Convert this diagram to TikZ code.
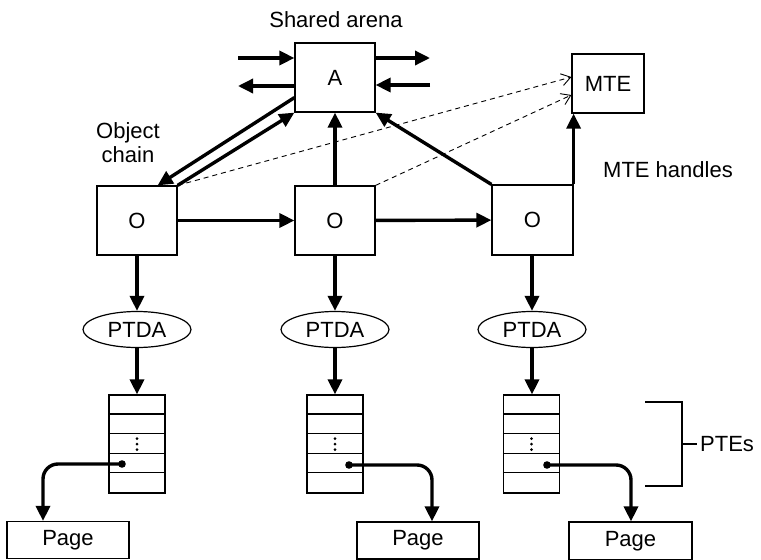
\documentclass[tikz,border=0pt]{standalone}
\usepackage{fontspec}
\setmainfont{Liberation Sans}
\usetikzlibrary{arrows.meta,shapes.geometric,calc}
\begin{document}
\begin{tikzpicture}[x=1pt,y=-1pt,
  every node/.style={font=\fontsize{22}{24}\selectfont, inner sep=0pt},
  box/.style={draw, line width=1.2pt, rectangle},
  obox/.style={box, minimum width=80pt, minimum height=69pt},
  oval/.style={draw, line width=1.2pt, ellipse, minimum width=108pt, minimum height=36pt},
  tbl/.style={box, minimum width=56pt, minimum height=98pt},
  pagebox/.style={box, minimum width=122pt, minimum height=37pt},
  arr/.style={line width=3.4pt, -{Triangle[length=15pt,width=14pt]}},
  dashlink/.style={line width=0.9pt, dashed, dash pattern=on 5pt off 4pt, -{Straight Barb[length=9pt,width=12pt,line width=0.9pt]}},
  rowline/.style={line width=1.2pt}
]
\useasboundingbox (0,0) rectangle (761,560);

% Shared arena
\node (sa) at (336,20) {Shared arena};
\node[obox] (A) at (335,77.5) {A};
\node[box, minimum width=72pt, minimum height=59pt] (MTE) at (608,83.5) {MTE};

\node[align=center] (oc) at (128,143) {Object\\chain};
\node (mh) at (668,170) {MTE handles};

% Object boxes
\node[obox] (O1) at (137,220.5) {O};
\node[obox] (O2) at (335,220.5) {O};
\node[obox, minimum width=81pt, minimum height=70pt] (O3) at (532.5,220) {O};

% PTDA
\node[oval] (E1) at (137,329.5) {PTDA};
\node[oval] (E2) at (335,329.5) {PTDA};
\node[oval] (E3) at (532,329.5) {PTDA};

% Tables
\node[tbl] (T1) at (137,444) {};
\node[tbl] (T2) at (335,444) {};
\node[tbl] (T3) at (531.5,444) {};
\foreach \t in {T1,T2,T3}{
  \foreach \k in {1,2,3,4}
    \draw[rowline] ($(\t.north west)+(0,19.6*\k)$) -- ($(\t.north east)+(0,19.6*\k)$);
  \foreach \v in {-5.5,0,5.5}
    \fill ($(\t.center)+(0,\v)$) circle (1.5pt);
}

% Pages
\node[pagebox] (P1) at (68,540) {Page};
\node[pagebox] (P2) at (418,540.5) {Page};
\node[pagebox, minimum width=123pt, minimum height=38pt] (P3) at (630.5,541) {Page};

% dots and pointers
\coordinate (d1) at ($(T1.center)+(-15,20)$);
\coordinate (d2) at ($(T2.center)+(14,21)$);
\coordinate (d3) at ($(T3.center)+(15.5,21)$);
\fill (d1) circle (3.8pt);
\fill (d2) circle (3.8pt);
\fill (d3) circle (3.8pt);
\draw[arr, rounded corners=15pt] (d1) -| ($(P1.north)+(-25,0)$);
\draw[arr, rounded corners=15pt] (d2) -| ($(P2.north)+(14,0)$);
\draw[arr, rounded corners=15pt] (d3) -| ($(P3.north)+(0.5,0)$);

% PTEs bracket
\node[anchor=west] (ptes) at (700,444) {PTEs};
\coordinate (b1) at (645,402);
\coordinate (b2) at (645,486);
\coordinate (bm) at (682,444);
\draw[line width=1.2pt] (b1) -| (bm |- b2) -- (b2);
\draw[line width=1.2pt] (bm) -- ($(ptes.west)+(-3,0)$);

% Arrows around A
\coordinate (la1) at (238,58);
\coordinate (la2) at (238,86);
\coordinate (ra1) at (430,58);
\coordinate (ra2) at (430,85);
\draw[arr] (la1) -- (la1 -| A.west);
\draw[arr] (la2 -| A.west) -- (la2);
\draw[arr] (ra1 -| A.east) -- (ra1);
\draw[arr] (ra2) -- (ra2 -| A.east);

% object chain
\draw[arr] ($(A.south west)+(0,-15)$) -- ($(O1.north east)+(-20,0)$);
\draw[arr] (O1.north east) -- (A.south west);
\draw[arr] (O1) -- (O2);
\draw[arr] (O2) -- (O3);
\draw[arr] (O2.north) -- (A.south);
\draw[arr] (O3.north west) -- (A.south east);
\draw[arr] (O3.north east) -- (O3.north east |- MTE.south);

% MTE handles (dashed)
\draw[dashlink] (O1.north east) -- ($(MTE.west)+(0,-6.5)$);
\draw[dashlink] (O2.north east) -- ($(MTE.west)+(0,11.5)$);

% down arrows
\draw[arr] (O1) -- (E1);
\draw[arr] (O2) -- (E2);
\draw[arr] (O3.south -| E3) -- (E3);
\draw[arr] (E1) -- (T1);
\draw[arr] (E2) -- (T2);
\draw[arr] (E3.south) -- (E3.south |- T3.north);
\end{tikzpicture}
\end{document}
